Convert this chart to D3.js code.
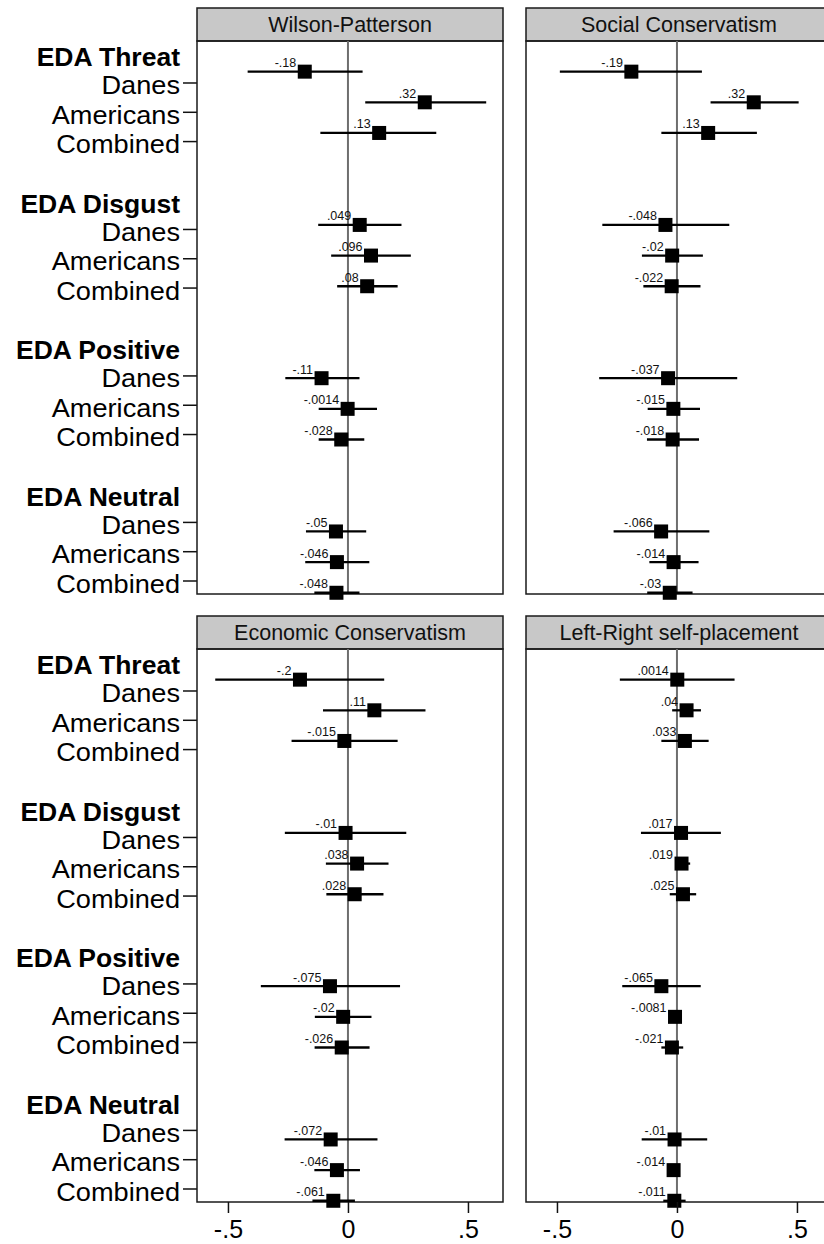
<!DOCTYPE html>
<html>
<head>
<meta charset="utf-8">
<script src="https://cdn.jsdelivr.net/npm/d3@7"></script>
<style>
  html, body { margin: 0; padding: 0; background: #fff; }
  svg { display: block; font-family: "Liberation Sans", Arial, Helvetica, sans-serif; }
</style>
</head>
<body>
<script>
// ---------- DATA ----------
const panelTitles = ["Wilson-Patterson", "Social Conservatism", "Economic Conservatism", "Left-Right self-placement"];
const groups = ["EDA Threat", "EDA Disgust", "EDA Positive", "EDA Neutral"];
const samples = ["Danes", "Americans", "Combined"];
const tickValues = [-0.5, 0, 0.5];
const tickLabels = ["-.5", "0", ".5"];

// rows in order: Threat(D,A,C), Disgust(D,A,C), Positive(D,A,C), Neutral(D,A,C)
const wpEst = [-0.18, 0.32, 0.13, 0.049, 0.096, 0.08, -0.11, -0.0014, -0.028, -0.05, -0.046, -0.048];
const wpLo  = [-0.418, 0.072, -0.115, -0.124, -0.07, -0.045, -0.261, -0.122, -0.122, -0.175, -0.178, -0.14];
const wpHi  = [0.061, 0.576, 0.368, 0.223, 0.262, 0.207, 0.048, 0.121, 0.068, 0.076, 0.089, 0.048];

const scEst = [-0.19, 0.32, 0.13, -0.048, -0.02, -0.022, -0.037, -0.015, -0.018, -0.066, -0.014, -0.03];
const scLo  = [-0.488, 0.14, -0.065, -0.311, -0.146, -0.14, -0.324, -0.122, -0.125, -0.264, -0.115, -0.124];
const scHi  = [0.104, 0.507, 0.333, 0.218, 0.108, 0.098, 0.251, 0.096, 0.092, 0.135, 0.09, 0.065];

const ecEst = [-0.2, 0.11, -0.015, -0.01, 0.038, 0.028, -0.075, -0.02, -0.026, -0.072, -0.046, -0.061];
const ecLo  = [-0.553, -0.104, -0.235, -0.263, -0.092, -0.09, -0.363, -0.138, -0.139, -0.264, -0.14, -0.148];
const ecHi  = [0.151, 0.323, 0.207, 0.243, 0.169, 0.148, 0.217, 0.098, 0.09, 0.123, 0.05, 0.029];

const lrEst = [0.0014, 0.04, 0.033, 0.017, 0.019, 0.025, -0.065, -0.0081, -0.021, -0.01, -0.014, -0.011];
const lrLo  = [-0.238, -0.02, -0.065, -0.15, -0.008, -0.03, -0.228, -0.028, -0.065, -0.147, -0.04, -0.057];
const lrHi  = [0.24, 0.1, 0.132, 0.183, 0.055, 0.08, 0.099, 0.012, 0.026, 0.126, 0.012, 0.036];

const panelData = [
  { est: wpEst, lo: wpLo, hi: wpHi },
  { est: scEst, lo: scLo, hi: scHi },
  { est: ecEst, lo: ecLo, hi: ecHi },
  { est: lrEst, lo: lrLo, hi: lrHi }
];

// ---------- LAYOUT ----------
const W = 824, H = 1244;
const panelLeft = [197, 526, 197, 526];
const panelTopOffset = [0, 0, 608, 608];
const panelW = 306, headerTop = 8, headerH = 33, plotH = 553;
const markerSize = 14;

const svg = d3.select("body").append("svg").attr("width", W).attr("height", H);

function fmt(v) {
  let s = String(v);
  return s.replace(/^(-?)0\./, "$1.");
}

// Left row labels
[0, 608].forEach(off => {
  const yLab = d3.scaleLinear().domain([0, 18]).range([53.7 + off, 581 + off]);
  const g = svg.append("g");
  groups.forEach((grp, gi) => {
    const s0 = gi * 5;
    g.append("text").attr("transform", `translate(180,${yLab(s0) + 12.5}) scale(1.02,1)`)
      .attr("text-anchor", "end").attr("font-size", 26).attr("font-weight", "bold")
      .attr("fill", "#000").text(grp);
    samples.forEach((sm, si) => {
      const yy = yLab(s0 + si + 1);
      g.append("text").attr("transform", `translate(180,${yy + 11.5}) scale(1.045,1)`)
        .attr("text-anchor", "end").attr("font-size", 26).attr("fill", "#000").text(sm);
      g.append("line").attr("x1", 183).attr("x2", 197).attr("y1", yy).attr("y2", yy)
        .attr("stroke", "#111").attr("stroke-width", 1.5);
    });
  });
});

// Panels
panelTitles.forEach((title, pi) => {
  const px = panelLeft[pi];
  const ht = headerTop + panelTopOffset[pi];
  const pt = ht + headerH;
  const pb = pt + plotH;
  const x = d3.scaleLinear().domain([-0.629, 0.646]).range([px, px + panelW]);
  const y = d3.scaleLinear().domain([0, 18.04]).range([pt, pb]);
  const d = panelData[pi];
  const g = svg.append("g");

  // header
  g.append("rect").attr("x", px).attr("y", ht).attr("width", panelW).attr("height", headerH)
    .attr("fill", "#c8c8c8").attr("stroke", "#1a1a1a").attr("stroke-width", 1.5);
  g.append("text").attr("x", px + panelW / 2).attr("y", ht + 23.5)
    .attr("text-anchor", "middle").attr("font-size", 21.5).attr("fill", "#111").text(title);

  // plot frame
  g.append("rect").attr("x", px).attr("y", pt).attr("width", panelW).attr("height", plotH)
    .attr("fill", "none").attr("stroke", "#1a1a1a").attr("stroke-width", 1.5);

  // zero line
  g.append("line").attr("x1", x(0)).attr("x2", x(0)).attr("y1", pt).attr("y2", pb)
    .attr("stroke", "#6e6e6e").attr("stroke-width", 2);

  const rows = d.est.map((e, i) => ({
    est: e, lo: d.lo[i], hi: d.hi[i],
    slot: Math.floor(i / 3) * 5 + (i % 3) + 1
  }));

  g.selectAll("line.ci").data(rows).join("line").attr("class", "ci")
    .attr("x1", r => x(r.lo)).attr("x2", r => x(r.hi))
    .attr("y1", r => y(r.slot)).attr("y2", r => y(r.slot))
    .attr("stroke", "#000").attr("stroke-width", 2.3);

  g.selectAll("rect.mk").data(rows).join("rect").attr("class", "mk")
    .attr("x", r => x(r.est) - markerSize / 2).attr("y", r => y(r.slot) - markerSize / 2)
    .attr("width", markerSize).attr("height", markerSize).attr("fill", "#000");

  g.selectAll("text.ml").data(rows).join("text").attr("class", "ml")
    .attr("x", r => x(r.est) - markerSize / 2 - 1.5)
    .attr("y", r => y(r.slot) - markerSize / 2 + 2.5)
    .attr("text-anchor", "end").attr("font-size", 12.5).attr("fill", "#111")
    .text(r => fmt(r.est));

  // bottom axis for lower panels
  if (pi >= 2) {
    const ax = g.append("g").attr("transform", `translate(0,${pb})`)
      .call(d3.axisBottom(x).tickValues(tickValues)
        .tickFormat((v, i) => tickLabels[i]).tickSize(11).tickPadding(7));
    ax.select(".domain").remove();
    ax.selectAll(".tick line").attr("stroke", "#111").attr("stroke-width", 1.5);
    ax.selectAll(".tick text").attr("font-size", 25).attr("fill", "#000")
      .attr("font-family", "'Liberation Sans', Arial, sans-serif");
  }
});
</script>
</body>
</html>
